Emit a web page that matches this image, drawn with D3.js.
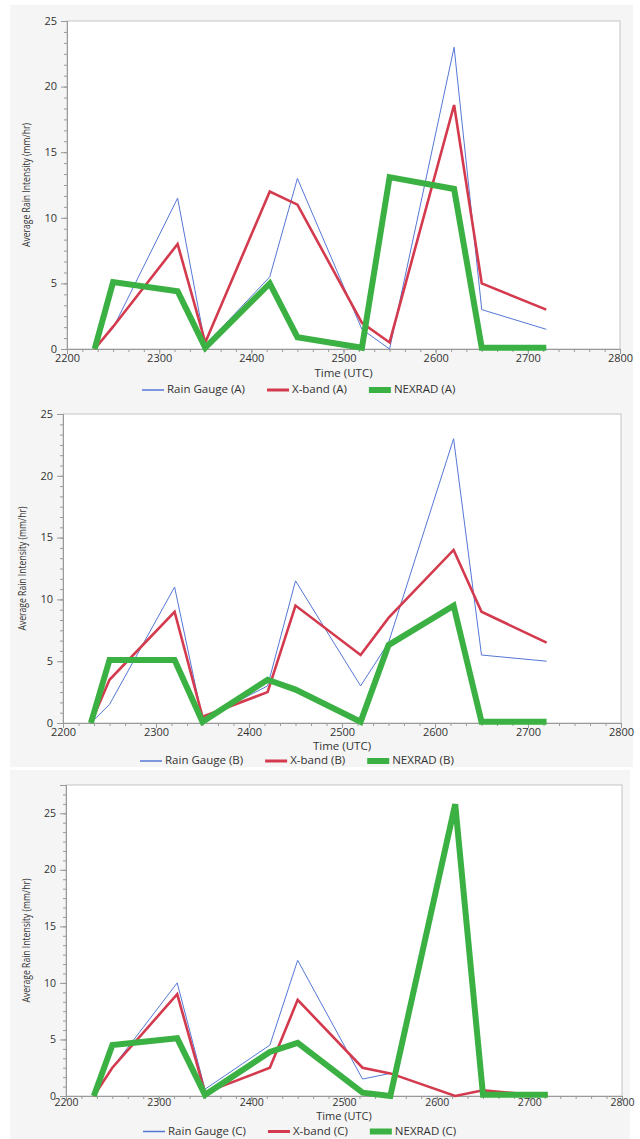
<!DOCTYPE html>
<html>
<head>
<meta charset="utf-8">
<script src="https://cdn.jsdelivr.net/npm/d3@7"></script>
<style>
  body { margin: 0; background: #fff; }
  text { font-family: "Open Sans", "DejaVu Sans", sans-serif; fill: #333; }
</style>
</head>
<body>
<div id="chart"></div>
<script>
// time of each sample (UTC, hhmm-ish)
var times = [2230, 2250, 2320, 2350, 2420, 2450, 2520, 2550, 2620, 2650, 2720];

var rainGaugeA = [0, 1.6, 11.5, 0.3, 5.5, 13, 1.5, 0, 23, 3, 1.5];
var xBandA     = [0, 1.7, 8, 0.5, 12, 11, 2, 0.5, 18.6, 5, 3];
var nexradA    = [0, 5.1, 4.4, 0.1, 5, 0.9, 0.1, 13.1, 12.2, 0.1, 0.1];

var rainGaugeB = [0, 1.5, 11, 0.3, 3, 11.5, 3, 6.5, 23, 5.5, 5];
var xBandB     = [0, 3.5, 9, 0.5, 2.5, 9.5, 5.5, 8.5, 14, 9, 6.5];
var nexradB    = [0, 5.1, 5.1, 0.1, 3.5, 2.7, 0.1, 6.3, 9.5, 0.1, 0.1];

var rainGaugeC = [0, 2.5, 10, 0.6, 4.5, 12, 1.5, 2, 0, 0.5, 0];
var xBandC     = [0, 2.5, 9, 0.3, 2.5, 8.5, 2.5, 2, 0, 0.5, 0];
var nexradC    = [0, 4.5, 5.1, 0.1, 3.9, 4.7, 0.3, 0, 25.8, 0.1, 0.1];

var xTicks = [2200, 2300, 2400, 2500, 2600, 2700, 2800];
var yTicks = [0, 5, 10, 15, 20, 25];

var seriesStyle = [
  { name: "Rain Gauge", color: "#5577d6", width: 1, legendW: 1.5 },
  { name: "X-band", color: "#d43a4e", width: 2.6, legendW: 3 },
  { name: "NEXRAD", color: "#3bb143", width: 6, legendW: 6 }
];

var panels = [
  { tag: "A", data: [rainGaugeA, xBandA, nexradA], yMax: 25,
    bg: [10, 5, 623, 396], left: 67, right: 620, top: 21, bottom: 349,
    tickY: 359, titleY: 374, legendY: 390, legendX: 142, yTitleX: 27, fs: 11 },
  { tag: "B", data: [rainGaugeB, xBandB, nexradB], yMax: 25,
    bg: [10, 401, 623, 366], left: 63, right: 621, top: 414, bottom: 723,
    tickY: 733, titleY: 747, legendY: 761, legendX: 140, yTitleX: 23, fs: 11 },
  { tag: "C", data: [rainGaugeC, xBandC, nexradC], yMax: 27.5,
    bg: [10, 770, 620, 369], left: 66, right: 622, top: 785, bottom: 1096,
    tickY: 1103.5, titleY: 1117, legendY: 1131.5, legendX: 143, yTitleX: 27, fs: 10.5 }
];

var svg = d3.select("#chart")
  .append("svg")
  .attr("width", 640)
  .attr("height", 1139);

var line = d3.line().x(d => d.x).y(d => d.y);

panels.forEach(function(p) {
  var g = svg.append("g").attr("class", "panel panel-" + p.tag);

  g.append("rect")
    .attr("x", p.bg[0]).attr("y", p.bg[1])
    .attr("width", p.bg[2]).attr("height", p.bg[3])
    .attr("fill", "#f5f5f5");

  g.append("rect")
    .attr("x", p.left).attr("y", p.top)
    .attr("width", p.right - p.left).attr("height", p.bottom - p.top)
    .attr("fill", "#fff")
    .attr("stroke", "#c4c4c4");

  var xScale = d3.scaleLinear().domain([2200, 2800]).range([p.left, p.right]);
  var yScale = d3.scaleLinear().domain([0, p.yMax]).range([p.bottom, p.top]);

  // minor ticks: 5 between each labelled tick
  var xMinor = d3.range(2200, 2800.01, 100 / 6);
  var yMinor = d3.range(0, p.yMax + 0.01, 5 / 6);

  g.append("g")
    .attr("class", "x axis")
    .attr("transform", `translate(0,${p.bottom})`)
    .call(d3.axisBottom(xScale).tickValues(xMinor).tickSize(3).tickFormat(""));
  g.append("g")
    .attr("class", "x axis major")
    .attr("transform", `translate(0,${p.bottom})`)
    .call(d3.axisBottom(xScale).tickValues(xTicks).tickSize(5).tickPadding(3).tickFormat(d => d));

  g.append("g")
    .attr("class", "y axis")
    .attr("transform", `translate(${p.left},0)`)
    .call(d3.axisLeft(yScale).tickValues(yMinor).tickSize(3).tickFormat(""));
  g.append("g")
    .attr("class", "y axis major")
    .attr("transform", `translate(${p.left},0)`)
    .call(d3.axisLeft(yScale).tickValues(yTicks).tickSize(6).tickPadding(4).tickFormat(d => d));

  g.selectAll(".axis path").attr("stroke", "#9a9a9a");
  g.selectAll(".axis line").attr("stroke", "#9a9a9a");
  g.selectAll(".axis text")
    .attr("fill", "#333")
    .style("font-size", p.fs + "px")
    .style("font-family", "'Open Sans', sans-serif");
  g.selectAll(".y.axis.major text").attr("dy", "0.3em");
  g.selectAll(".x.axis.major text").attr("dy", null)
    .attr("y", p.tickY - p.bottom).attr("dominant-baseline", "middle");

  // series lines
  p.data.forEach(function(values, i) {
    var s = seriesStyle[i];
    var pts = values.map((v, j) => ({ x: xScale(times[j]), y: yScale(v) }));
    g.append("path")
      .attr("class", "series s" + i)
      .attr("d", line(pts))
      .attr("fill", "none")
      .attr("stroke", s.color)
      .attr("stroke-width", s.width)
      .attr("stroke-linejoin", "miter")
      .attr("stroke-miterlimit", 3);
  });

  g.append("text")
    .attr("x", (p.left + p.right) / 2)
    .attr("y", p.titleY)
    .attr("text-anchor", "middle")
    .attr("dominant-baseline", "middle")
    .style("font-size", (p.fs + 0.5) + "px")
    .text("Time (UTC)");

  g.append("text")
    .attr("transform", `translate(${p.yTitleX},${(p.top + p.bottom) / 2}) rotate(-90)`)
    .attr("text-anchor", "middle")
    .attr("dominant-baseline", "middle")
    .attr("textLength", 124)
    .attr("lengthAdjust", "spacingAndGlyphs")
    .style("font-size", "10px")
    .text("Average Rain Intensity (mm/hr)");

  // legend
  var lx = p.legendX;
  seriesStyle.forEach(function(s) {
    g.append("line")
      .attr("x1", lx).attr("x2", lx + 22)
      .attr("y1", p.legendY).attr("y2", p.legendY)
      .attr("stroke", s.color)
      .attr("stroke-width", s.legendW);
    var t = g.append("text")
      .attr("x", lx + 25)
      .attr("y", p.legendY)
      .attr("dominant-baseline", "middle")
      .style("font-size", "11.5px")
      .text(`${s.name} (${p.tag})`);
    lx = lx + 25 + t.node().getComputedTextLength() + 22;
  });
});
</script>
</body>
</html>
